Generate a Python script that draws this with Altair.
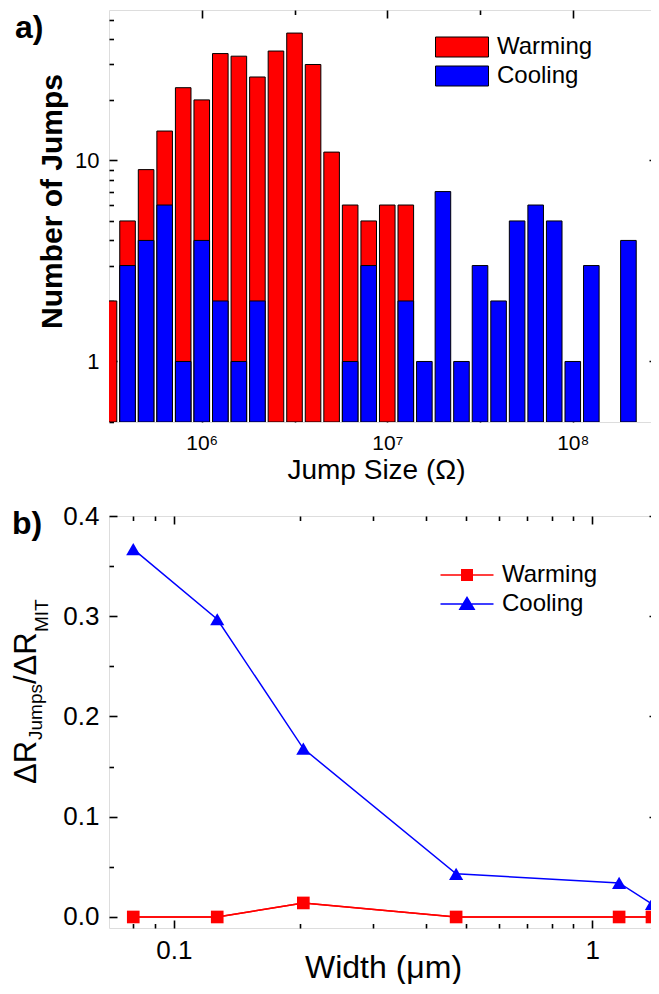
import altair as alt
import pandas as pd

FONT = "Liberation Sans"

# ---------------- panel a: histogram of jump sizes ----------------
bin_log10_center = [5.5, 5.6, 5.7, 5.8, 5.9, 6.0, 6.1, 6.2, 6.3, 6.4, 6.5, 6.6, 6.7, 6.8, 6.9,
                    7.0, 7.1, 7.2, 7.3, 7.4, 7.5, 7.6, 7.7, 7.8, 7.9, 8.0, 8.1, 8.2, 8.3, 8.4]
warming_jumps = [2, 5, 9, 14, 23, 20, 34, 33, 26, 35, 43, 30, 11, 6, 5,
                 6, 6, 0, 0, 0, 0, 0, 0, 0, 0, 0, 0, 0, 0, 0]
cooling_jumps = [0, 3, 4, 6, 1, 4, 2, 1, 2, 0, 0, 0, 0, 1, 3,
                 0, 2, 1, 7, 1, 3, 2, 5, 6, 5, 1, 3, 0, 4, 0]
series_names = ["Warming", "Cooling"]
series_colors = ["#ff0000", "#0000ff"]

x_a_major = [1e6, 1e7, 1e8]
x_a_major_labels = ["10⁶", "10⁷", "10⁸"]
x_a_minor = [3.162e6, 3.162e7]
y_a_major = [1, 10]
y_a_major_labels = ["1", "10"]
y_a_minor = [0.5, 0.6, 0.7, 0.8, 0.9, 2, 3, 4, 5, 6, 7, 8, 9, 20, 30, 40, 50]

# ---------------- panel b: fraction vs width ----------------
width_um = [0.080, 0.127, 0.204, 0.473, 1.16, 1.39]
warming_ratio = [0.0, 0.0, 0.014, 0.0, 0.0, 0.0]
cooling_ratio = [0.367, 0.297, 0.168, 0.043, 0.034, 0.013]
x_b_major = [0.1, 1]
x_b_major_labels = ["0.1", "1"]
x_b_minor = [0.08, 0.09, 0.2, 0.3, 0.4, 0.5, 0.6, 0.7, 0.8, 0.9]
y_b_major = [0.0, 0.1, 0.2, 0.3, 0.4]
y_b_minor = [0.05, 0.15, 0.25, 0.35]

# ---------------- layout constants ----------------
WA, HA = 548, 412
WB, HB = 548, 412
HALF_BIN = 0.042  # half bar width in decades

rows = []
for c, w, k in zip(bin_log10_center, warming_jumps, cooling_jumps):
    rows.append({"series": "Warming", "count": w, "lo": 10 ** (c - HALF_BIN), "hi": 10 ** (c + HALF_BIN)})
    rows.append({"series": "Cooling", "count": k, "lo": 10 ** (c - HALF_BIN), "hi": 10 ** (c + HALF_BIN)})
df_a = pd.DataFrame(rows)
df_a = df_a[df_a["count"] > 0]

df_b = pd.DataFrame({
    "width": width_um * 2,
    "ratio": warming_ratio + cooling_ratio,
    "series": ["Warming"] * len(width_um) + ["Cooling"] * len(width_um),
})

xa = alt.Scale(type="log", domain=[10 ** 5.5, 10 ** 8.454], nice=False)
ya = alt.Scale(type="log", domain=[0.5, 56], nice=False)
xb = alt.Scale(type="log", domain=[0.07, 1.429], nice=False)
yb = alt.Scale(type="linear", domain=[-0.011, 0.4], nice=False, zero=False)
color_scale = alt.Scale(domain=series_names, range=series_colors)


def label_expr(values, labels):
    expr = "''"
    for v, l in zip(values, labels):
        expr = f"abs(datum.value - {v}) < {abs(v) * 1e-6 + 1e-9} ? '{l}' : " + expr
    return expr


def tick_layer(data, xf, yf, xs, ys, xvals, yvals, size, W, H, far):
    xo, yo = ("bottom", "left") if far else ("top", "right")
    common = dict(labels=False, domain=False, grid=False, tickSize=size,
                  tickWidth=1.6, tickColor="black")
    ax = alt.Axis(orient=xo, offset=-H, values=xvals, **common)
    ay = alt.Axis(orient=yo, offset=-W, values=yvals, **common)
    return alt.Chart(data).mark_point(opacity=0).encode(
        x=alt.X(xf, scale=xs, axis=ax, title=None),
        y=alt.Y(yf, scale=ys, axis=ay, title=None),
    )


def ticks_all(data, xf, yf, xs, ys, xmaj, xmin, ymaj, ymin, W, H):
    return [
        tick_layer(data, xf, yf, xs, ys, xmaj, ymaj, 8, W, H, False),
        tick_layer(data, xf, yf, xs, ys, xmin, ymin, 4.5, W, H, False),
        tick_layer(data, xf, yf, xs, ys, xmaj, ymaj, 8, W, H, True),
        tick_layer(data, xf, yf, xs, ys, xmin, ymin, 4.5, W, H, True),
    ]


# ---------- panel a ----------
rect_path = "M-2.65,-1H2.65V1H-2.65Z"
legend_a = alt.Legend(
    title=None, orient="none", legendX=341, legendY=25, padding=0,
    symbolType=rect_path, symbolSize=400, symbolStrokeColor="black", symbolStrokeWidth=1,
    labelFont=FONT, labelFontSize=24, labelColor="black", labelOffset=23, rowPadding=5,
)

axis_xa = alt.Axis(orient="bottom", values=x_a_major, labelExpr=label_expr(x_a_major, x_a_major_labels),
                   ticks=False, domain=False, grid=False, labelFont=FONT, labelFontSize=21,
                   labelColor="black", labelPadding=10, labelBaseline="top",
                   titleFont=FONT, titleFontSize=28, titleFontWeight="normal", titleColor="black",
                   titleX=267, titleY=56, titleBaseline="alphabetic")
axis_ya = alt.Axis(orient="left", values=y_a_major, labelExpr=label_expr(y_a_major, y_a_major_labels),
                   ticks=False, domain=False, grid=False, labelFont=FONT, labelFontSize=22,
                   labelColor="black", labelPadding=10,
                   titleFont=FONT, titleFontSize=30, titleFontWeight="bold", titleColor="black",
                   titleX=-42, titleY=191, titleBaseline="bottom")

bars_w = alt.Chart(df_a).transform_filter("datum.series == 'Warming'").mark_bar(
    stroke="black", strokeWidth=1, clip=True).encode(
    x=alt.X("lo:Q", scale=xa, axis=axis_xa, title="Jump Size (Ω)"),
    x2="hi:Q",
    y=alt.Y("count:Q", scale=ya, axis=axis_ya, title="Number of Jumps"),
    y2=alt.datum(0.5),
    color=alt.Color("series:N", scale=color_scale, legend=legend_a),
)
bars_c = alt.Chart(df_a).transform_filter("datum.series == 'Cooling'").mark_bar(
    stroke="black", strokeWidth=1, clip=True).encode(
    x=alt.X("lo:Q", scale=xa, axis=None),
    x2="hi:Q",
    y=alt.Y("count:Q", scale=ya, axis=None),
    y2=alt.datum(0.5),
    color=alt.Color("series:N", scale=color_scale, legend=legend_a),
)
label_a = alt.Chart(pd.DataFrame({"t": ["a)"]})).mark_text(
    align="left", baseline="alphabetic", font=FONT, fontSize=32, fontWeight="bold", color="black"
).encode(text="t:N", x=alt.value(-94), y=alt.value(28))

panel_a = alt.layer(
    bars_w, bars_c, *ticks_all(df_a, "lo:Q", "count:Q", xa, ya, x_a_major, x_a_minor, y_a_major, y_a_minor, WA, HA), label_a
).resolve_axis(x="independent", y="independent").properties(width=WA, height=HA)

# ---------- panel b ----------
sq_path = "M-2.65,-0.07H2.65V0.07H-2.65Z M-0.6,-0.6H0.6V0.6H-0.6Z"
tri_path = "M-2.65,-0.07H2.65V0.07H-2.65Z M0,-0.8L0.85,0.6H-0.85Z"
legend_b = alt.Legend(
    title=None, orient="none", legendX=346, legendY=47, padding=0,
    symbolSize=400, labelFont=FONT, labelFontSize=24, labelColor="black",
    labelOffset=23, rowPadding=5, symbolStrokeWidth=0,
)

axis_xb = alt.Axis(orient="bottom", values=x_b_major, labelExpr=label_expr(x_b_major, x_b_major_labels),
                   ticks=False, domain=False, grid=False, labelFont=FONT, labelFontSize=26,
                   labelColor="black", labelPadding=9, labelBaseline="top",
                   titleFont=FONT, titleFontSize=32, titleFontWeight="normal", titleColor="black",
                   titleY=49, titleBaseline="alphabetic")
axis_yb = alt.Axis(orient="left", values=y_b_major, format=".1f",
                   ticks=False, domain=False, grid=False, labelFont=FONT, labelFontSize=26,
                   labelColor="black", labelPadding=10)


def series_layers(name, color, shape, size):
    d = alt.Chart(df_b).transform_filter(f"datum.series == '{name}'")
    line = d.mark_line(color=color, strokeWidth=1.5, clip=True).encode(
        x=alt.X("width:Q", scale=xb, axis=None), y=alt.Y("ratio:Q", scale=yb, axis=None))
    pts = d.mark_point(shape=shape, filled=True, size=size, color=color, opacity=1, clip=True).encode(
        x=alt.X("width:Q", scale=xb, axis=None), y=alt.Y("ratio:Q", scale=yb, axis=None))
    return [line, pts]


main_b = alt.Chart(df_b).transform_filter("datum.series == 'Warming'").mark_line(
    color="#ff0000", strokeWidth=1.5, clip=True).encode(
    x=alt.X("width:Q", scale=xb, axis=axis_xb, title="Width (μm)"),
    y=alt.Y("ratio:Q", scale=yb, axis=axis_yb, title=None),
)
legend_layer = alt.Chart(df_b).transform_filter("false").mark_point(filled=True, opacity=1).encode(
    x=alt.X("width:Q", scale=xb, axis=None),
    y=alt.Y("ratio:Q", scale=yb, axis=None),
    color=alt.Color("series:N", scale=color_scale, legend=legend_b),
    shape=alt.Shape("series:N", scale=alt.Scale(domain=series_names, range=[sq_path, tri_path]), legend=legend_b),
)

title_parts = [
    ("ΔR", 31, -73, 268),
    ("Jumps", 19, -67, 224),
    ("/ΔR", 31, -73, 168),
    ("MIT", 19, -61, 116),
]
title_layers = []
for txt, fs, xv, yv in title_parts:
    title_layers.append(
        alt.Chart(pd.DataFrame({"t": [txt]})).mark_text(
            align="left", baseline="alphabetic", angle=270, font=FONT, fontSize=fs, color="black"
        ).encode(text="t:N", x=alt.value(xv), y=alt.value(yv))
    )
label_b = alt.Chart(pd.DataFrame({"t": ["b)"]})).mark_text(
    align="left", baseline="alphabetic", font=FONT, fontSize=32, fontWeight="bold", color="black"
).encode(text="t:N", x=alt.value(-97), y=alt.value(18))

panel_b = alt.layer(
    main_b,
    *series_layers("Warming", "#ff0000", "square", 160),
    *series_layers("Cooling", "#0000ff", "triangle-up", 200),
    legend_layer,
    *ticks_all(df_b, "width:Q", "ratio:Q", xb, yb, x_b_major, x_b_minor, y_b_major, y_b_minor, WB, HB),
    *title_layers, label_b,
).resolve_axis(x="independent", y="independent").properties(width=WB, height=HB)

chart = alt.concat(panel_a, panel_b, columns=1, spacing=17, align="each").resolve_scale(
    color="independent", shape="independent"
).resolve_legend(color="independent", shape="independent").properties(
    padding={"left": 2, "top": 0, "right": -8, "bottom": 0}
).configure_view(stroke="black", strokeWidth=2.5).configure(font=FONT)

chart.save("out.html", embed_options={"renderer": "svg", "actions": False})
